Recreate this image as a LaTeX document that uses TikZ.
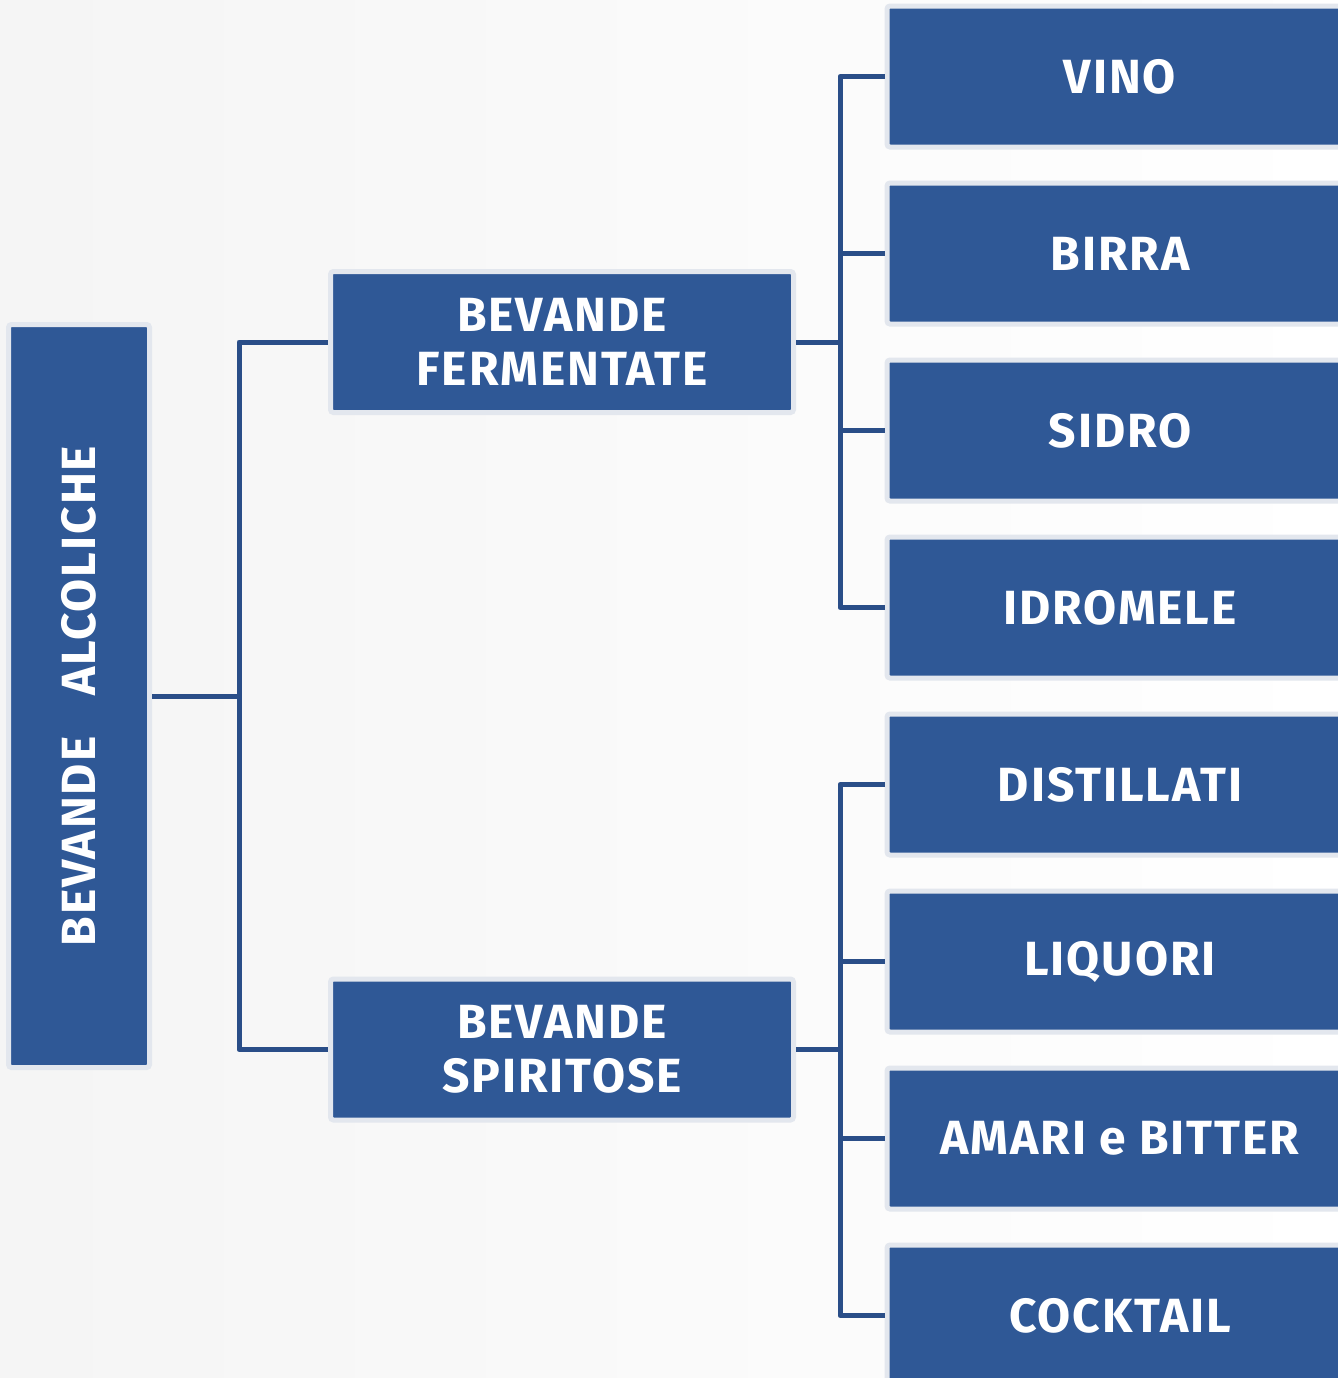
\documentclass[tikz,border=0pt]{standalone}
\usepackage{fontspec}
\setmainfont{Fira Sans}
\newfontfamily\boxfont{Fira Sans}[LetterSpace=4]
\usetikzlibrary{positioning}
\definecolor{boxblue}{HTML}{2F5896}
\definecolor{boxrim}{HTML}{E3E7EE}
\definecolor{linkblue}{HTML}{2A4E88}

\begin{document}
\begin{tikzpicture}[x=0.5pt, y=-0.5pt,
  box/.style={draw=boxrim, line width=2.5pt, fill=boxblue, text=white,
    font=\boxfont\fontsize{24}{27}\selectfont\bfseries, align=center, inner sep=0pt,
    rounded corners=1.5pt},
  leafbox/.style={box, minimum width=233pt, minimum height=70.5pt},
  midbox/.style={box, minimum width=231.5pt, minimum height=70.5pt},
  link/.style={draw=linkblue, line width=2.5pt, line join=round}]
  %================= Parameters =================
  \def\dy{177}     % spacing of the leaf boxes
  \def\yone{76.5}  % centre of the first leaf
  %================= Canvas =================
  \useasboundingbox (0,0) rectangle (1338,1378);
  \clip (0,0) rectangle (1338,1378);
  \shade[left color=black!4, right color=white] (0,0) rectangle (1338,1378);

  %================= Root and middle level =================
  \node[box, minimum width=70.5pt, minimum height=371.5pt] (root) at (79,696) {};
  \node[rotate=90, text=white, font=\boxfont\fontsize{24}{27}\selectfont\bfseries]
    (roottxt) at (root.center) {BEVANDE\hspace{14pt} ALCOLICHE};
  \node[midbox] (ferm) at (562,342) {BEVANDE\\FERMENTATE};
  \node[midbox] (spir) at (562,1049.5) {BEVANDE\\SPIRITOSE};

  \draw[link] (root.east) -- ++(87,0) coordinate (rj);
  \draw[link] (rj) |- (ferm.west);
  \draw[link] (rj) |- (spir.west);

  %================= Leaves: fermented =================
  \draw[link] (ferm.east) -- ++(44,0) coordinate (fj);
  \foreach \name/\txt [count=\k from 0] in {vino/VINO, birra/BIRRA, sidro/SIDRO, idromele/IDROMELE}{
    \pgfmathsetmacro{\yy}{\yone+\k*\dy}
    \node[leafbox] (\name) at (1120,\yy) {\txt};
    \draw[link] (fj) |- (\name.west);
  }

  %================= Leaves: spirits =================
  \draw[link] (spir.east) -- ++(44,0) coordinate (sj);
  \foreach \name/\txt [count=\k from 4] in {distillati/DISTILLATI, liquori/LIQUORI, amari/AMARI e BITTER, cocktail/COCKTAIL}{
    \pgfmathsetmacro{\yy}{\yone+\k*\dy}
    \node[leafbox] (\name) at (1120,\yy) {\txt};
    \draw[link] (sj) |- (\name.west);
  }
\end{tikzpicture}
\end{document}
